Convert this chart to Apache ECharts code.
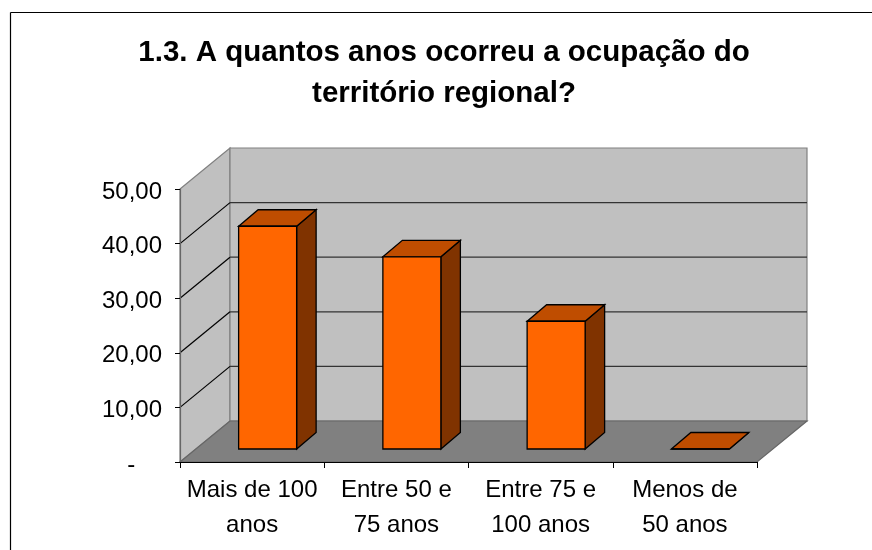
<!DOCTYPE html>
<html>
<head>
<meta charset="utf-8">
<style>
    html, body { margin: 0; padding: 0; background: #fff; }
    #chart { width: 872px; height: 550px; }
</style>
<script src="https://cdn.jsdelivr.net/npm/echarts@6/dist/echarts.min.js"></script>
</head>
<body>
<div id="chart"></div>
<script>
    var titleText = '1.3. A quantos anos ocorreu a ocupação do\nterritório regional?';
    var categories = ['Mais de 100\nanos', 'Entre 50 e\n75 anos', 'Entre 75 e\n100 anos', 'Menos de\n50 anos'];
    var values = [40.8, 35.2, 23.4, 0];
    var yTicks = [0, 10, 20, 30, 40, 50];
    // the dash sits further left in the source number format
    var yTickLabels = ['-\u00a0\u00a0\u00a0\u00a0', '10,00', '20,00', '30,00', '40,00', '50,00'];

    // fake 3d: depth of the box and of the bars, in pixels
    var depthX = 50, depthY = 41;
    var barInX = 15.5, barInY = 13, barDepthX = 19.5, barDepthY = 16.5, barWidth = 58;

    var chart = echarts.init(document.getElementById('chart'), null, {renderer: 'canvas'});

    function poly(points, fill, stroke, width) {
        return {
            type: 'polygon',
            shape: {points: points},
            style: {fill: fill, stroke: stroke, lineWidth: width}
        };
    }

    function renderWalls(params, api) {
        var r = params.coordSys;
        var l = r.x, t = r.y, b = r.y + r.height, e = r.x + r.width;
        return {
            type: 'group',
            children: [
                poly([[l, t], [l + depthX, t - depthY], [l + depthX, b - depthY], [l, b]], '#c0c0c0', '#808080', 1.2),
                poly([[l + depthX, t - depthY], [e + depthX, t - depthY], [e + depthX, b - depthY], [l + depthX, b - depthY]], '#c0c0c0', '#808080', 1.2),
                poly([[l, b], [l + depthX, b - depthY], [e + depthX, b - depthY], [e, b]], '#808080', '#666', 1.2)
            ]
        };
    }

    function renderGrid(params, api) {
        var r = params.coordSys;
        var y = api.coord([0, api.value(0)])[1];
        return {
            type: 'group',
            children: [
                {type: 'line', shape: {x1: r.x, y1: y, x2: r.x + depthX, y2: y - depthY}, style: {stroke: '#000', lineWidth: 1.2}},
                {type: 'line', shape: {x1: r.x + depthX, y1: y - depthY, x2: r.x + r.width + depthX, y2: y - depthY}, style: {stroke: '#333', lineWidth: 1.2}}
            ]
        };
    }

    function renderBar(params, api) {
        var top = api.coord([api.value(0), api.value(1)]);
        var base = api.coord([api.value(0), 0]);
        var x0 = top[0] + barInX - barWidth / 2, x1 = x0 + barWidth;
        var yb = base[1] - barInY, yt = top[1] - barInY;
        var dx = barDepthX, dy = barDepthY;
        return {
            type: 'group',
            children: [
                poly([[x1, yt], [x1 + dx, yt - dy], [x1 + dx, yb - dy], [x1, yb]], '#803300', '#000', 1.3),
                poly([[x0, yt], [x0 + dx, yt - dy], [x1 + dx, yt - dy], [x1, yt]], '#bf4d00', '#000', 1.3),
                poly([[x0, yt], [x1, yt], [x1, yb], [x0, yb]], '#ff6600', '#000', 1.3)
            ]
        };
    }

    chart.setOption({
        animation: false,
        backgroundColor: '#fff',
        textStyle: {fontFamily: 'Liberation Sans'},
        title: {
            text: titleText,
            left: 439,
            top: 27,
            textAlign: 'center',
            textStyle: {
                fontFamily: 'Liberation Sans',
                fontSize: 29.5,
                fontWeight: 'bold',
                color: '#000',
                lineHeight: 41
            }
        },
        graphic: [
            {type: 'line', silent: true, shape: {x1: 10.5, y1: 12.5, x2: 872, y2: 12.5}, style: {stroke: '#000', lineWidth: 1.2}},
            {type: 'line', silent: true, shape: {x1: 10.5, y1: 12.5, x2: 10.5, y2: 550}, style: {stroke: '#000', lineWidth: 1.2}}
        ],
        grid: {left: 180, right: 115, top: 189, bottom: 88, containLabel: false},
        xAxis: {
            type: 'category',
            data: categories,
            z: 5,
            axisLine: {lineStyle: {color: '#000', width: 1.2}},
            axisTick: {show: true, length: 6, lineStyle: {color: '#000'}},
            axisLabel: {
                color: '#000',
                fontFamily: 'Liberation Sans',
                fontSize: 24,
                lineHeight: 35,
                margin: 11,
                interval: 0
            }
        },
        yAxis: {
            type: 'value',
            min: 0,
            max: 50,
            interval: 10,
            z: 5,
            splitLine: {show: false},
            axisLine: {show: true, lineStyle: {color: '#666', width: 1.2}},
            axisTick: {show: true, length: 5, lineStyle: {color: '#000'}},
            axisLabel: {
                color: '#000',
                fontFamily: 'Liberation Sans',
                fontSize: 24,
                margin: 18,
                verticalAlign: 'top',
                lineHeight: 6,
                formatter: function (v) {
                    return yTickLabels[yTicks.indexOf(v)];
                }
            }
        },
        series: [
            {type: 'custom', name: 'walls', z: 1, silent: true, data: [[0]], renderItem: renderWalls},
            {type: 'custom', name: 'grid', z: 2, silent: true, data: yTicks.slice(1, 5).map(function (v) { return [v]; }), encode: {y: 0}, renderItem: renderGrid},
            {
                type: 'custom',
                name: 'bars',
                z: 3,
                silent: true,
                data: values.map(function (v, i) { return [i, v]; }),
                encode: {x: 0, y: 1},
                renderItem: renderBar
            }
        ]
    });
</script>
</body>
</html>
